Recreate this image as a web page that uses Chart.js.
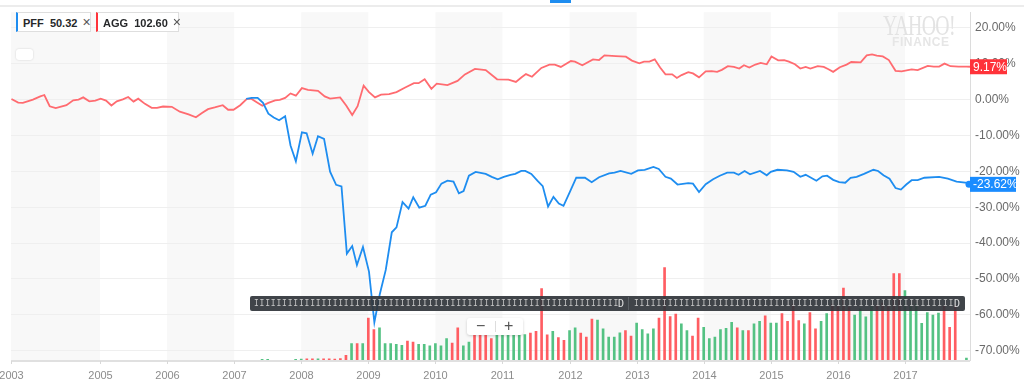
<!DOCTYPE html>
<html>
<head>
<meta charset="utf-8">
<script src="https://cdn.jsdelivr.net/npm/chart.js@4.4.0/dist/chart.umd.min.js"></script>
<style>
  html, body { margin: 0; padding: 0; background: #fff; }
  #wrap { position: relative; width: 1024px; height: 392px; overflow: hidden; font-family: "Liberation Sans", Arial, sans-serif; }
  #chart { position: absolute; left: 0; top: 0; }
  .topline { position: absolute; left: 0; top: 5px; width: 1024px; height: 2px; background: #ececec; }
  .dash { position: absolute; left: 550px; top: 0; width: 21px; height: 3px; background: #1e8df0; }
  .chip { position: absolute; top: 12px; height: 20px; box-sizing: border-box; border: 1px solid #dedede; background: #fff;
          font-size: 11px; font-weight: bold; color: #26282a; line-height: 18px; padding-left: 5px; white-space: nowrap; }
  .chip .x { font-weight: normal; color: #555; margin-left: 5px; font-size: 14px; }
  .mini { position: absolute; left: 16px; top: 49px; width: 17px; height: 11px; background: #fff; border-radius: 3px;
          box-shadow: 0 0 2px rgba(0,0,0,0.18); }
  .logo1 { position: absolute; left: 883px; top: 8px; font: 30px "Liberation Serif", serif; color: #e3e3e3;
           transform: scaleX(0.66); transform-origin: left top; letter-spacing: -1px; }
  .logo2 { position: absolute; left: 892px; top: 35px; font: bold 12px "Liberation Sans", sans-serif; color: #e6e6e6; letter-spacing: 0.6px; }
  .nav { position: absolute; left: 250px; top: 296px; width: 715px; height: 15px; background: rgba(50,54,59,0.93);
         border-radius: 2px; color: #c8c8c8; font: 8px "DejaVu Sans Mono", monospace; letter-spacing: 0.8px; line-height: 15px; white-space: nowrap; overflow: hidden; }
  .nav span { position: absolute; top: 0; }
  .nav .div { position: absolute; left: 378px; top: 1px; width: 1px; height: 13px; background: #5c6166; }
  .nav .d { font-size: 10px; letter-spacing: 0; color: #e0e0e0; }
  .zoombox { position: absolute; left: 467px; top: 318px; width: 56px; height: 17px; background: #fff; border-radius: 3px;
             box-shadow: 0 1px 3px rgba(0,0,0,0.18); color: #555; font: 16px "Liberation Sans", sans-serif; line-height: 17px; }
  .zoombox .m { position: absolute; left: 9px; top: -1px; }
  .zoombox .p { position: absolute; left: 37px; top: -1px; }
  .zoombox .sep { position: absolute; left: 28px; top: 3px; width: 1px; height: 11px; background: #ddd; }
</style>
</head>
<body>
<div id="wrap">
  <canvas id="chart" width="1024" height="392"></canvas>
  <div class="topline"></div>
  <div class="dash"></div>
  <div class="chip" style="left:16px;width:75px;border-left:2px solid #1e8df0;">PFF&nbsp; 50.32<span class="x">×</span></div>
  <div class="chip" style="left:96px;width:83px;border-left:2px solid #ff333a;">AGG&nbsp; 102.60<span class="x">×</span></div>
  <div class="mini"></div>
  <div class="logo1">YAHOO!</div>
  <div class="logo2">FINANCE</div>
  <div class="nav">
    <span id="nav1" style="left:4px"></span><span class="d" style="left:368px">D</span>
    <span class="div"></span>
    <span id="nav2" style="left:384px"></span><span class="d" style="left:704px">D</span>
  </div>
  <div class="zoombox"><span class="m">−</span><span class="sep"></span><span class="p">+</span></div>
</div>
<script>
// Años (decimales) y % de cambio de AGG
var aggDates = [
  2003.68, 2003.78, 2003.85, 2004.00, 2004.11, 2004.17, 2004.25, 2004.34, 2004.50, 2004.60, 2004.68, 2004.75,
  2004.84, 2004.93, 2005.01, 2005.09, 2005.17, 2005.25, 2005.34, 2005.42, 2005.50, 2005.57, 2005.67, 2005.77,
  2005.85, 2005.94, 2006.07, 2006.19, 2006.32, 2006.43, 2006.52, 2006.61, 2006.71, 2006.83, 2006.91, 2006.99,
  2007.09, 2007.19, 2007.26, 2007.33, 2007.42, 2007.51, 2007.61, 2007.68, 2007.76, 2007.84, 2007.92, 2008.01,
  2008.10, 2008.25, 2008.35, 2008.43, 2008.58, 2008.67, 2008.76, 2008.84, 2008.93, 2009.01, 2009.10, 2009.19,
  2009.31, 2009.42, 2009.55, 2009.68, 2009.75, 2009.84, 2009.94, 2010.02, 2010.18, 2010.33, 2010.44, 2010.59,
  2010.75, 2010.92, 2011.09, 2011.20, 2011.29, 2011.35, 2011.44, 2011.58, 2011.70, 2011.78, 2011.87, 2012.02,
  2012.08, 2012.19, 2012.35, 2012.44, 2012.52, 2012.69, 2012.84, 2012.93, 2013.04, 2013.11, 2013.19, 2013.27,
  2013.35, 2013.43, 2013.53, 2013.60, 2013.67, 2013.77, 2013.84, 2013.93, 2014.03, 2014.12, 2014.20, 2014.27,
  2014.36, 2014.45, 2014.53, 2014.60, 2014.68, 2014.77, 2014.85, 2014.94, 2015.01, 2015.11, 2015.20, 2015.27,
  2015.36, 2015.44, 2015.52, 2015.59, 2015.70, 2015.79, 2015.86, 2015.93, 2016.03, 2016.13, 2016.20, 2016.34,
  2016.43, 2016.51, 2016.58, 2016.67, 2016.76, 2016.86, 2016.95, 2017.10, 2017.19, 2017.34, 2017.43, 2017.51,
  2017.59, 2017.68, 2017.80, 2017.92, 2017.97
];
var aggValues = [
  0.19, -0.82, -0.90, 0.00, 0.90, 1.29, -1.84, -2.38, -1.56, -0.19, 0.00, 0.63,
  -0.47, -0.27, 0.27, -0.27, -1.64, -0.47, 0.08, 0.74, -0.55, 0.27, -1.18, -2.27,
  -2.27, -1.92, -2.00, -3.37, -4.11, -4.93, -3.75, -2.66, -2.19, -1.56, -2.82, -2.82,
  -1.56, 0.19, 0.19, -0.63, -1.73, -0.90, -0.19, -0.08, 0.47, 1.73, 1.10, 3.21,
  2.74, 2.47, 0.90, 0.27, 0.63, -1.64, -4.30, -1.84, 3.92, 2.11, 0.63, 1.37,
  1.56, 2.11, 3.37, 4.58, 4.58, 5.67, 3.01, 4.47, 4.03, 5.21, 7.04, 8.58,
  8.22, 5.67, 5.56, 4.93, 6.30, 7.12, 6.38, 8.85, 9.78, 9.78, 9.12, 10.77,
  10.60, 9.59, 11.23, 11.04, 12.33, 12.14, 11.97, 10.88, 10.14, 10.60, 10.60, 11.23,
  8.96, 7.04, 7.04, 6.03, 6.85, 7.67, 7.32, 6.22, 7.86, 7.95, 7.75, 8.30,
  9.32, 9.12, 8.68, 9.59, 8.96, 9.78, 10.22, 9.86, 12.05, 10.96, 11.04, 10.60,
  9.86, 8.68, 9.12, 8.68, 9.32, 9.12, 8.49, 7.75, 9.04, 9.78, 10.49, 10.41,
  12.33, 12.60, 12.25, 12.05, 11.04, 8.03, 7.86, 8.41, 8.22, 9.40, 9.23, 9.23,
  10.05, 9.32, 9.23, 9.23, 9.17
];

// Años (decimales) y % de cambio de PFF
var pffDates = [
  2007.18, 2007.26, 2007.35, 2007.43, 2007.51, 2007.59, 2007.67, 2007.76, 2007.84, 2007.92, 2008.01, 2008.08,
  2008.17, 2008.25, 2008.34, 2008.43, 2008.52, 2008.60, 2008.68, 2008.76, 2008.83, 2008.92, 2009.01, 2009.09,
  2009.17, 2009.26, 2009.35, 2009.42, 2009.51, 2009.60, 2009.67, 2009.76, 2009.85, 2009.93, 2010.01, 2010.09,
  2010.18, 2010.27, 2010.35, 2010.42, 2010.50, 2010.60, 2010.75, 2010.84, 2010.93, 2011.02, 2011.12, 2011.19,
  2011.28, 2011.34, 2011.43, 2011.52, 2011.60, 2011.68, 2011.76, 2011.84, 2011.91, 2012.01, 2012.10, 2012.23,
  2012.33, 2012.44, 2012.59, 2012.67, 2012.76, 2012.92, 2013.02, 2013.12, 2013.25, 2013.33, 2013.43, 2013.51,
  2013.61, 2013.77, 2013.84, 2013.93, 2014.03, 2014.14, 2014.24, 2014.35, 2014.45, 2014.52, 2014.61, 2014.69,
  2014.84, 2014.94, 2015.00, 2015.10, 2015.24, 2015.34, 2015.44, 2015.52, 2015.68, 2015.77, 2015.84, 2015.93,
  2016.02, 2016.11, 2016.19, 2016.28, 2016.39, 2016.53, 2016.60, 2016.68, 2016.77, 2016.86, 2016.94, 2017.02,
  2017.10, 2017.19, 2017.29, 2017.51, 2017.64, 2017.77, 2017.93, 2017.97
];
var pffValues = [
  0.19, 0.47, 0.47, -0.90, -3.92, -5.01, -5.75, -4.66, -12.79, -17.18, -9.12, -9.40,
  -15.07, -10.22, -10.96, -20.08, -23.75, -24.19, -42.93, -40.82, -46.11, -41.10, -47.95, -62.11,
  -54.33, -47.48, -36.99, -35.62, -28.58, -30.41, -27.21, -30.14, -29.59, -26.49, -25.84, -23.42,
  -22.60, -22.85, -26.14, -25.48, -21.21, -20.14, -20.71, -21.53, -22.19, -21.53, -20.96, -20.71,
  -19.89, -19.89, -20.71, -22.60, -24.11, -29.80, -27.12, -29.00, -29.60, -25.48, -21.78, -21.78,
  -23.01, -21.64, -20.55, -20.38, -19.89, -20.71, -19.73, -19.56, -18.74, -19.32, -21.53, -22.03,
  -23.67, -23.29, -23.42, -25.75, -23.56, -22.19, -21.21, -20.38, -20.38, -20.96, -19.89, -20.82,
  -19.89, -21.10, -20.14, -19.56, -19.73, -20.14, -21.53, -20.96, -22.60, -21.37, -21.21, -22.36,
  -23.01, -23.18, -21.78, -21.53, -20.71, -19.56, -19.89, -21.10, -22.03, -24.66, -25.07, -23.67,
  -22.47, -22.47, -21.78, -21.53, -22.03, -22.85, -23.18, -23.62
];

// Volumen mensual (unidades relativas) y si el mes fue al alza (1 verde) o a la baja (0 rojo)
var volMonths = [
  '2007-06', '2007-07', '2007-12',
  '2008-01', '2008-02', '2008-03', '2008-04', '2008-05', '2008-06', '2008-07', '2008-08', '2008-09', '2008-10', '2008-11', '2008-12',
  '2009-01', '2009-02', '2009-03', '2009-04', '2009-05', '2009-06', '2009-07', '2009-08', '2009-09', '2009-10', '2009-11', '2009-12',
  '2010-01', '2010-02', '2010-03', '2010-04', '2010-05', '2010-06', '2010-07', '2010-08', '2010-09', '2010-10', '2010-11', '2010-12',
  '2011-01', '2011-02', '2011-03', '2011-04', '2011-05', '2011-06', '2011-07', '2011-08', '2011-09', '2011-10', '2011-11', '2011-12',
  '2012-01', '2012-02', '2012-03', '2012-04', '2012-05', '2012-06', '2012-07', '2012-08', '2012-09', '2012-10', '2012-11', '2012-12',
  '2013-01', '2013-02', '2013-03', '2013-04', '2013-05', '2013-06', '2013-07', '2013-08', '2013-09', '2013-10', '2013-11', '2013-12',
  '2014-01', '2014-02', '2014-03', '2014-04', '2014-05', '2014-06', '2014-07', '2014-08', '2014-09', '2014-10', '2014-11', '2014-12',
  '2015-01', '2015-02', '2015-03', '2015-04', '2015-05', '2015-06', '2015-07', '2015-08', '2015-09', '2015-10', '2015-11', '2015-12',
  '2016-01', '2016-02', '2016-03', '2016-04', '2016-05', '2016-06', '2016-07', '2016-08', '2016-09', '2016-10', '2016-11', '2016-12',
  '2017-01', '2017-02', '2017-03', '2017-04', '2017-05', '2017-06', '2017-07', '2017-08', '2017-09', '2017-10', '2017-12'
];
var volValues = [
  0.8, 0.8, 0.8,
  1, 1.2, 1.2, 1.2, 1.2, 1.2, 1, 1.5, 4.7, 16.7, 16.7, 16.7,
  42.7, 31, 32.7, 16.7, 16.7, 16, 15, 19.3, 18.3, 16, 16, 14.3,
  16.7, 14.3, 21.7, 17.3, 32.7, 14.3, 18.3, 33, 30, 27, 21.7, 30,
  33, 29, 31, 28, 26, 27.3, 29.3, 72.7, 25.7, 29.3, 22.7, 20,
  30, 32.7, 27.3, 23.3, 41.7, 40.7, 31.7, 23.3, 23.3, 27.7, 30, 24.3,
  37.7, 31, 26.7, 31.7, 42.7, 94, 44.3, 46.7, 36.7, 30, 24.3, 42.7,
  33.3, 21.7, 23.3, 31, 32.3, 38.3, 32.7, 30, 30, 36.7, 39.3, 45,
  37.7, 37.7, 47.3, 39.3, 57, 40, 36.7, 48.3, 31.7, 39.3, 47.3, 57,
  55, 73.3, 54, 45.7, 52, 44, 55, 56, 58, 55, 88, 88,
  70.7, 55, 57, 37.3, 48.3, 45.7, 47.7, 55, 33.3, 56, 2
];
var volUp = [
  1, 1, 1,
  1, 0, 0, 1, 0, 0, 0, 0, 0, 1, 0, 1,
  0, 0, 1, 1, 1, 1, 1, 0, 0, 1, 1, 1,
  1, 1, 1, 0, 0, 1, 1, 0, 0, 0, 0, 1,
  1, 1, 1, 1, 1, 0, 0, 0, 0, 1, 0, 0,
  1, 1, 0, 0, 0, 1, 1, 1, 1, 1, 0, 0,
  1, 1, 1, 1, 0, 0, 0, 0, 1, 1, 0, 0,
  1, 1, 1, 1, 1, 1, 0, 1, 0, 1, 1, 0,
  1, 1, 0, 0, 0, 0, 1, 0, 0, 1, 1, 0,
  0, 0, 0, 1, 1, 1, 1, 0, 0, 0, 0, 0,
  1, 1, 1, 1, 1, 1, 1, 0, 0, 0, 1
];

// Ticks del eje Y (%) y marcas de años del eje X
var yTicks = [20, 10, 0, -10, -20, -30, -40, -50, -60, -70];
var yearTicks = [2003.673, 2005, 2006, 2007, 2008, 2009, 2010, 2011, 2012, 2013, 2014, 2015, 2016, 2017];
var yearLabels = ['2003', '2005', '2006', '2007', '2008', '2009', '2010', '2011', '2012', '2013', '2014', '2015', '2016', '2017'];
var shadeBands = [[2003.673, 2005], [2006, 2007], [2008, 2009], [2010, 2011], [2012, 2013], [2014, 2015], [2016, 2017]];

var colorPFF = '#1e8df0';
var colorAGG = '#ff6b70';
var badgeAGG = '#ff333a';
var badgePFF = '#1a8cff';

document.getElementById('nav1').textContent = 'I'.repeat(65);
document.getElementById('nav2').textContent = 'I'.repeat(57);

function monthToYear(s) {
    var p = s.split('-');
    return parseInt(p[0], 10) + (parseInt(p[1], 10) - 1) / 12;
}

var aggPoints = aggDates.map(function (d, i) { return { x: d, y: aggValues[i] }; });
var pffPoints = pffDates.map(function (d, i) { return { x: d, y: pffValues[i] }; });
var volPoints = volMonths.map(function (m, i) { return { x: monthToYear(m), y: volValues[i] }; });
var volColors = volUp.map(function (u) { return u ? '#54c283' : '#ff5d62'; });

// Fondo por años, eje inferior y etiquetas de último valor
var decor = {
    id: 'decor',
    beforeDraw: function (chart) {
        var ctx = chart.ctx, a = chart.chartArea, x = chart.scales.x;
        ctx.save();
        ctx.fillStyle = '#f8f8f8';
        shadeBands.forEach(function (b) {
            var x0 = x.getPixelForValue(b[0]), x1 = x.getPixelForValue(b[1]);
            ctx.fillRect(x0, a.top, x1 - x0, a.bottom - a.top);
        });
        ctx.restore();
    },
    afterDraw: function (chart) {
        var ctx = chart.ctx, a = chart.chartArea, x = chart.scales.x, y = chart.scales.y;
        ctx.save();
        // línea inferior
        ctx.strokeStyle = '#e0e0e0';
        ctx.lineWidth = 2;
        ctx.beginPath();
        ctx.moveTo(a.left, a.bottom + 1);
        ctx.lineTo(a.right, a.bottom + 1);
        ctx.stroke();
        // marcas y etiquetas de años
        ctx.lineWidth = 1;
        ctx.strokeStyle = '#d8d8d8';
        ctx.fillStyle = '#8c8c8c';
        ctx.font = '11px "Liberation Sans", Arial, sans-serif';
        ctx.textAlign = 'center';
        ctx.textBaseline = 'middle';
        yearTicks.forEach(function (t, i) {
            var px = Math.round(x.getPixelForValue(t)) + 0.5;
            ctx.beginPath();
            ctx.moveTo(px, a.bottom + 1);
            ctx.lineTo(px, a.bottom + 4);
            ctx.stroke();
            ctx.fillText(yearLabels[i], px, 376);
        });
        // etiquetas del último valor
        function badge(val, color, w, dot) {
            var py = y.getPixelForValue(val);
            ctx.fillStyle = color;
            ctx.fillRect(a.right, py - 7.5, w, 15);
            if (dot) {
                ctx.beginPath();
                ctx.arc(a.right - 1, py, 3.5, 0, Math.PI * 2);
                ctx.fill();
            }
            ctx.fillStyle = '#fff';
            ctx.font = '12px "Liberation Sans", Arial, sans-serif';
            ctx.textAlign = 'left';
            ctx.fillText(val.toFixed(2) + '%', a.right + 3, py + 0.5);
        }
        badge(aggValues[aggValues.length - 1], badgeAGG, 37, false);
        badge(pffValues[pffValues.length - 1], badgePFF, 46, true);
        ctx.restore();
    }
};

var ctx = document.getElementById('chart').getContext('2d');
var chart = new Chart(ctx, {
    type: 'line',
    data: {
        datasets: [
            { label: 'PFF', data: pffPoints, borderColor: colorPFF, borderWidth: 1.8, pointRadius: 0, tension: 0, yAxisID: 'y', order: 0 },
            { label: 'AGG', data: aggPoints, borderColor: colorAGG, borderWidth: 1.8, pointRadius: 0, tension: 0, yAxisID: 'y', order: 1 },
            { type: 'bar', label: 'Volume', data: volPoints, backgroundColor: volColors, barThickness: 2, grouped: false, yAxisID: 'yv', order: 3 }
        ]
    },
    options: {
        responsive: false,
        animation: false,
        devicePixelRatio: 1,
        layout: { padding: { top: 6, bottom: 32, left: 11, right: 0 } },
        plugins: { legend: { display: false }, tooltip: { enabled: false } },
        scales: {
            x: { type: 'linear', display: false, offset: false, min: 2003.673, max: 2017.97 },
            y: {
                position: 'right',
                min: -72.6,
                max: 24.38,
                afterBuildTicks: function (scale) {
                    scale.ticks = yTicks.map(function (v) { return { value: v }; });
                },
                afterFit: function (scale) { scale.width = 54; },
                grid: { color: '#efefef', drawTicks: false },
                border: { color: '#dcdcdc', width: 1 },
                ticks: {
                    padding: 5,
                    color: '#6a6a6a',
                    font: { family: '"Liberation Sans", Arial, sans-serif', size: 12 },
                    callback: function (v) { return v.toFixed(2) + '%'; }
                }
            },
            yv: { display: false, min: 0, max: 354 }
        }
    },
    plugins: [decor]
});
</script>
</body>
</html>
